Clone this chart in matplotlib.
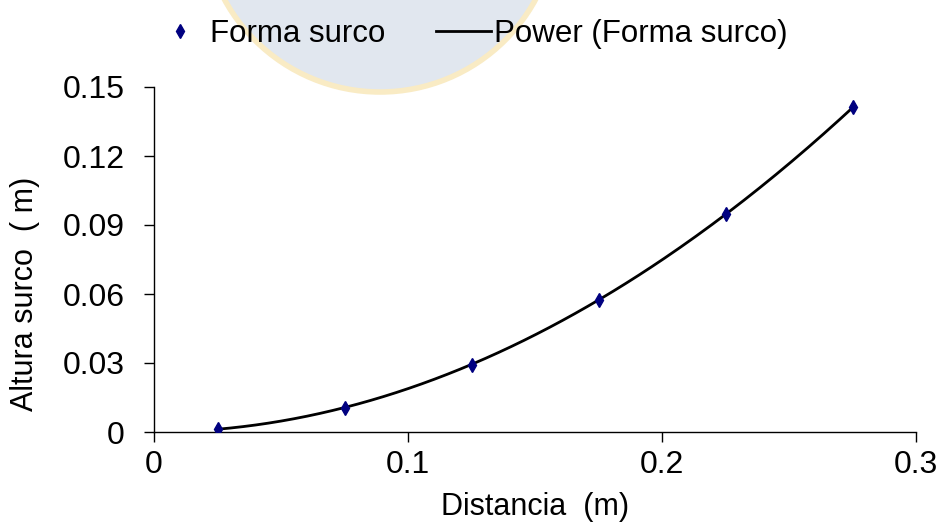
import numpy as np
import matplotlib
matplotlib.use("Agg")
import matplotlib.pyplot as plt
from matplotlib.patches import Circle
from matplotlib.lines import Line2D

# Furrow profile measurements
distancia = [0.025, 0.075, 0.125, 0.175, 0.225, 0.275]
altura = [0.0012, 0.0106, 0.0293, 0.0573, 0.0947, 0.1415]

x_ticks = [0, 0.1, 0.2, 0.3]
x_labels = ["0", "0.1", "0.2", "0.3"]
y_ticks = [0, 0.03, 0.06, 0.09, 0.12, 0.15]
y_labels = ["0", "0.03", "0.06", "0.09", "0.12", "0.15"]

plt.rcParams["font.family"] = ["Liberation Sans", "DejaVu Sans"]

W, H = 942, 529
DPI = 100
fig = plt.figure(figsize=(W / DPI, H / DPI), dpi=DPI)
ax = fig.add_axes([154 / W, 1 - 432 / H, (916 - 154) / W, (432 - 87) / H])
ax.patch.set_alpha(0)

# faint crest behind the legend (inches from lower-left corner)
crest = Circle((380 / DPI, (H + 85) / DPI), 177 / DPI,
               transform=fig.dpi_scale_trans, facecolor="#e1e7ef",
               edgecolor="#f9ebc4", linewidth=4, zorder=-5)
fig.patches.append(crest)

# power trend line y = a * x^b, least squares in log space
b, log_a = np.polyfit(np.log(distancia), np.log(altura), 1)
xs = np.linspace(distancia[0], distancia[-1], 200)
ax.plot(xs, np.exp(log_a) * xs ** b, color="black", lw=2, zorder=2)
ax.plot(distancia, altura, linestyle="none", marker="d", markersize=7.5,
        color="#000080", zorder=3)

ax.set_xlim(0, 0.3)
ax.set_ylim(0, 0.15)
ax.set_xticks(x_ticks)
ax.set_xticklabels(x_labels)
ax.set_yticks(y_ticks)
ax.set_yticklabels(y_labels)
for s in ["top", "right"]:
    ax.spines[s].set_visible(False)
for s in ["left", "bottom"]:
    ax.spines[s].set_linewidth(1)
ax.tick_params(direction="out", length=7, width=1, labelsize=23)
ax.tick_params(axis="x", pad=6)
ax.tick_params(axis="y", pad=14)
ax.set_xlabel("Distancia  (m)", fontsize=22)
ax.xaxis.set_label_coords(0.5, -0.175)
ax.set_ylabel("Altura surco  ( m)", fontsize=22)
ax.yaxis.set_label_coords(-0.15, 0.4)

handles = [
    Line2D([], [], linestyle="none", marker="d", markersize=7.5, color="#000080"),
    Line2D([], [], color="black", lw=2),
]
fig.legend(handles, ["Forma surco", "Power (Forma surco)"], loc="upper center",
           bbox_to_anchor=(470 / W, 1.0), ncol=2, frameon=False, fontsize=22.5,
           handlelength=1.75, handletextpad=0.1, columnspacing=1.6,
           borderaxespad=0.2)

fig.savefig("out.png", dpi=DPI)
